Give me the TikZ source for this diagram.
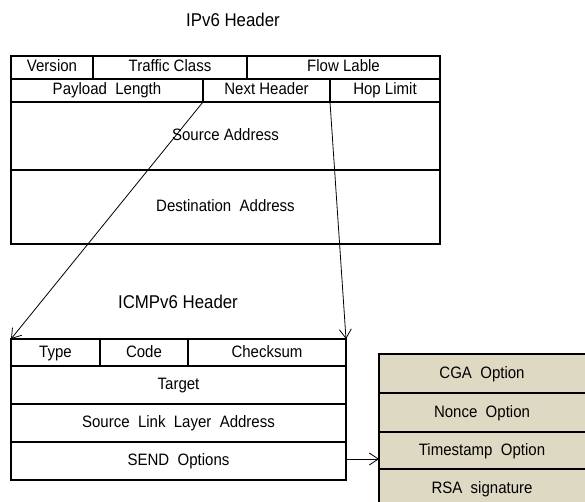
\documentclass[tikz,border=0pt]{standalone}
\usepackage{fontspec}
\setmainfont{Liberation Sans}
\newfontfamily\fieldfont[FakeStretch=0.91]{Liberation Sans}
\usetikzlibrary{arrows.meta}
\definecolor{optfill}{HTML}{DDD9C3}
% A header field: [extra style]{name}{x1}{y1}{x2}{y2}{label}, y measured downwards
\newcommand{\fieldbox}[7][]{%
  \node[field,#1,minimum width={#5-#3},minimum height={#6-#4},anchor=north west]
    (#2) at (#3,-#4) {#7};}
\begin{document}
\begin{tikzpicture}[x=1pt,y=1pt,
  field/.style={draw=black,line width=1.6pt,inner sep=0pt,outer sep=0pt,
    text height=11.5pt,text depth=2.5pt,
    font=\fieldfont\fontsize{16.5}{19}\selectfont},
  optfield/.style={fill=optfill},
  title/.style={font=\fieldfont\fontsize{18.5}{21}\selectfont},
  link/.style={line width=0.8pt,-{Straight Barb[length=9pt,width=12pt,line width=0.8pt]}}]
\useasboundingbox (0,0) rectangle (585,-502);
\clip (0,0) rectangle (585,-502);
\fill[white] (0,0) rectangle (585,-502);

% IPv6 header
\node[title] (ipv6title) at (233,-20) {IPv6 Header};
\fieldbox{ver}{11}{56}{93}{79}{Version}
\fieldbox{tc}{93}{56}{247}{79}{Traffic Class}
\fieldbox{fl}{247}{56}{440}{79}{Flow Lable}
\fieldbox{pl}{11}{79}{203}{102}{Payload\ \ Length}
\fieldbox{nh}{203}{79}{330}{102}{Next Header}
\fieldbox{hl}{330}{79}{440}{102}{Hop Limit}
\fieldbox{src}{11}{102}{440}{170}{Source Address}
\fieldbox{dst}{11}{170}{440}{244}{Destination\ \ Address}

% ICMPv6 header
\node[title] (icmptitle) at (178,-302) {ICMPv6 Header};
\fieldbox{type}{11}{339}{100}{366}{Type}
\fieldbox{code}{100}{339}{188}{366}{Code}
\fieldbox{cks}{188}{339}{346}{366}{Checksum}
\fieldbox{tgt}{11}{366}{346}{404}{Target}
\fieldbox{sll}{11}{404}{346}{442}{Source\ \ Link\ \ Layer\ \ Address}
\fieldbox{send}{11}{442}{346}{480}{SEND\ \ Options}

% SEND options
\fieldbox[optfield]{cga}{379}{354}{600}{393}{\hspace*{-15pt}CGA\ \ Option}
\fieldbox[optfield]{nonce}{379}{393}{600}{432}{\hspace*{-15pt}Nonce\ \ Option}
\fieldbox[optfield]{ts}{379}{432}{600}{469}{\hspace*{-15pt}Timestamp\ \ Option}
\fieldbox[optfield]{rsa}{379}{469}{600}{508}{\hspace*{-15pt}RSA\ \ signature}

% Connectors
\draw[link] (nh.south west) -- (type.north west);
\draw[link] (nh.south east) -- (cks.north east);
\draw[link] ([yshift=2pt]send.east) -- ([yshift=2pt]send.east -| ts.west);
\end{tikzpicture}
\end{document}
